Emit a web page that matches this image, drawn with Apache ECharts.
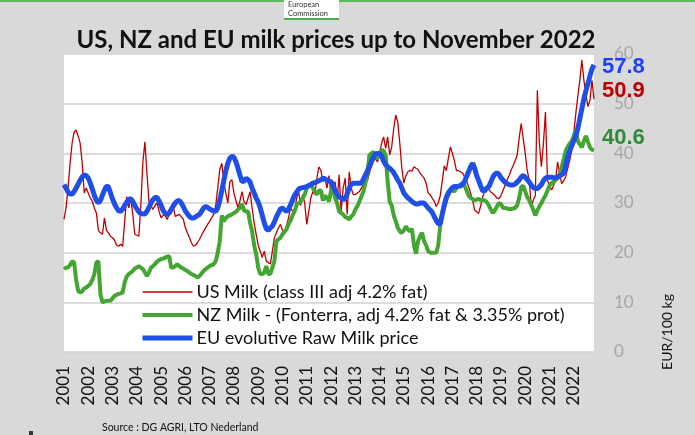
<!DOCTYPE html>
<html>
<head>
<meta charset="utf-8">
<script src="https://cdn.jsdelivr.net/npm/echarts@6/dist/echarts.min.js"></script>
<style>
  html, body { margin: 0; padding: 0; background: #d9d9d9; }
  #chart { width: 695px; height: 435px; }
</style>
</head>
<body>
<div id="chart"></div>
<script>
// years shown on the x axis, data is monthly Jan 2001 - Nov 2022
const years = [2001, 2002, 2003, 2004, 2005, 2006, 2007, 2008, 2009, 2010, 2011,
    2012, 2013, 2014, 2015, 2016, 2017, 2018, 2019, 2020, 2021, 2022];
const lastMonth = 11; // November 2022

// US Milk (class III adj 4.2% fat), EUR/100 kg
const usMilk = [
    26.7, 29, 33, 38, 42, 44.3, 44.7, 43.5, 42, 38, 32, 33,              // 2001
    32, 31, 30.3, 29, 28, 24.5, 24, 23.7, 27, 24.5, 24, 23.3,            // 2002
    23, 22.5, 21.5, 21.3, 21.7, 21.3, 26.3, 31.3, 29, 31, 27.7, 23.7,    // 2003
    23.5, 23.3, 29.7, 38.3, 42.3, 36, 30.3, 29.5, 28.7, 29.5, 30, 28.3,  // 2004
    27, 27.5, 27.5, 26.7, 27.7, 28.5, 29.3, 27.3, 27.5, 27.7, 27.2, 26.7,// 2005
    25, 24, 23, 22, 21.3, 21.5, 22, 22.7, 23.5, 24.3, 25, 25.7,          // 2006
    26.3, 27, 27.7, 29.5, 33, 36.7, 38, 34.3, 32, 30, 34.3, 34.7,        // 2007
    32, 30.5, 29, 30.5, 32.3, 30.3, 29.7, 31, 32.3, 29, 26, 23.7,        // 2008
    21.5, 20.3, 19, 20.3, 18.3, 18, 17.7, 20.3, 23, 24, 25, 25.7,        // 2009
    24.5, 23.7, 25.5, 27, 29, 28.3, 28.5, 31, 32.3, 29.5, 31.7, 30,      // 2010
    25.7, 28.3, 31, 32.3, 31.7, 35, 37.3, 36.5, 34.3, 35, 33, 35.5,      // 2011
    31.7, 33, 34.3, 30.3, 35.7, 28.3, 33, 35, 27.7, 36.3, 33, 31.7,      // 2012
    31.7, 32, 32.3, 33, 33.7, 34, 34.5, 36, 37.7, 39.7, 38.8, 38.3,      // 2013
    40, 42, 43.3, 41, 43.3, 39.7, 41.3, 45, 47.7, 46.3, 42, 37,          // 2014
    34, 35.5, 36.3, 36.6, 36.4, 37.3, 37, 36.8, 36, 35.5, 35, 34,        // 2015
    32, 31.7, 31, 30.4, 29.3, 30, 31.5, 34.5, 37.5, 36.5, 39, 41.3,      // 2016
    40, 38.5, 36.5, 36.5, 36.3, 36, 35.3, 34.5, 33.3, 32, 30.5, 28.6,    // 2017
    28.2, 27.9, 29.5, 31.2, 32.5, 33.3, 32.8, 32.2, 31.9, 31.5, 31, 30.9,// 2018
    31.5, 32.5, 33.5, 34.6, 35.5, 36.6, 37.5, 38.5, 39.6, 43, 46, 43,    // 2019
    40, 36.5, 34.6, 29.2, 30.6, 31.5, 52.7, 42, 37.3, 42, 48.3, 34.6,    // 2020
    33.5, 32.6, 33.5, 34.6, 38.3, 36, 33.9, 34.5, 35.3, 37, 38.6, 40.6,  // 2021
    44, 48, 51.5, 54.7, 58.8, 54.7, 52, 49.4, 50.7, 54.7, 50.9           // 2022
];

// NZ Milk - Fonterra, adj 4.2% fat & 3.35% prot
const nzMilk = [
    16.7, 17, 17, 17.5, 18.3, 18, 14.5, 12.3, 12, 12.2, 12.8, 13,        // 2001
    13.3, 13.7, 14.5, 15.7, 18, 18.3, 11.7, 10, 10.2, 10.3, 10.3, 10.3,  // 2002
    10.8, 11.3, 11.5, 11.7, 11.8, 12, 14, 15.2, 15.7, 16, 16.3, 16.8,    // 2003
    17, 17.3, 17, 16.7, 16, 15.3, 16, 17, 17.3, 17.7, 18.2, 18.5,        // 2004
    18.7, 18.8, 19, 19.2, 19.3, 17, 17, 17.3, 17.7, 17.3, 17, 16.8,      // 2005
    16.5, 16.3, 16, 15.7, 15.5, 15.3, 15, 15.3, 15.8, 16.3, 16.7, 17,    // 2006
    17.3, 17.5, 17.7, 18.3, 20, 22.3, 27.5, 26.3, 27, 27.3, 27.5, 27.7,  // 2007
    28, 28.2, 28.7, 29, 29.8, 28.5, 28.3, 28.3, 26, 24.3, 21.5, 19.7,    // 2008
    17, 15.7, 15.7, 16, 17.3, 15.7, 15.7, 17, 18.3, 22.3, 22.7, 23,      // 2009
    23.7, 24.2, 24.7, 25.7, 26.5, 27.5, 28.3, 29.7, 30, 30.3, 31, 31.7,  // 2010
    33, 33.3, 33.7, 33, 32.3, 31.7, 32.5, 32.5, 30.5, 31.5, 31, 30.3,    // 2011
    32.5, 33, 31, 30, 28.3, 28, 27.7, 27.2, 27, 26.7, 27.3, 27.7,        // 2012
    28.7, 29.3, 30.3, 31.3, 32.3, 34, 36, 39.7, 40, 40.3, 39.3, 39,      // 2013
    40, 40.7, 40.5, 39.7, 34.3, 30.3, 29.5, 27.5, 26.3, 25, 24.3, 24,    // 2014
    24.5, 25.3, 24.7, 24.3, 24.8, 21.5, 19.8, 22.3, 23.3, 24, 22.3, 21.5,// 2015
    20.3, 20, 20, 20, 20, 21.5, 25.5, 28, 30, 31.5, 32.3, 32.6,          // 2016
    32.6, 32.3, 33, 33.3, 33.3, 33.6, 33.6, 32.5, 31.5, 31, 30.8, 30.5,  // 2017
    30.7, 30.8, 30.6, 30.6, 30.5, 30.2, 29.5, 28.7, 28, 28.5, 29.3, 30,  // 2018
    29.8, 29, 29, 28.9, 28.8, 28.8, 28.9, 29, 29.5, 31, 33.2, 33.5,      // 2019
    32.3, 31.2, 30.5, 29.6, 28.6, 27.5, 28.5, 29.3, 30, 30.8, 31.5, 32.5,// 2020
    33.5, 34, 34.3, 34.6, 35, 35.8, 37.2, 38.8, 40.5, 41.3, 42, 42.5,    // 2021
    43.5, 44.8, 42.5, 41.8, 41.2, 42.5, 43.5, 42.3, 41.2, 40.7, 40.6     // 2022
];

// EU evolutive Raw Milk price
const euMilk = [
    33.7, 33, 32.2, 31.8, 31.8, 32.3, 33, 33.8, 34.6, 35.3, 35.7, 35.5,  // 2001
    35, 34, 32.8, 31.5, 30.5, 30, 30.5, 31.6, 32.6, 33.4, 33.2, 32,      // 2002
    30.8, 29.8, 29, 28.4, 28.3, 28.8, 29.5, 30.2, 30.7, 30.9, 30.3, 29.5,// 2003
    28.8, 28.2, 27.9, 27.8, 27.8, 28.3, 29.1, 30, 30.7, 31.1, 31.1, 30.4,// 2004
    29.5, 28.5, 27.9, 27.7, 28, 28.7, 29.4, 30, 30.4, 30.5, 30, 29.2,    // 2005
    28.4, 27.8, 27.3, 27, 27, 27.2, 27.5, 27.7, 28.3, 29, 29.3, 29.1,    // 2006
    28.8, 28.6, 28.4, 28.3, 29, 30.5, 32.5, 34.5, 36.5, 38, 39, 39.4,    // 2007
    39.2, 38.3, 37, 35.6, 34.3, 34.4, 35, 34.7, 34.2, 33, 32, 31,        // 2008
    30.2, 29, 27.5, 26, 24.8, 24.5, 25, 25.3, 26.2, 27.2, 28, 28.8,      // 2009
    29, 28.6, 28.3, 28.8, 29.6, 30.6, 31.6, 32.2, 32.8, 33, 33.1, 33.2,  // 2010
    33.3, 33.5, 33.7, 34, 34.1, 34.3, 34.5, 34.7, 35, 34.9, 34.6, 34.4,  // 2011
    34.3, 33.5, 32.5, 31.8, 31.2, 31, 30.6, 31, 31.8, 33, 33.8, 34,      // 2012
    34, 34, 34, 34, 34.8, 35.6, 36.5, 37.3, 38.3, 39.3, 39.9, 40,        // 2013
    39.9, 39.5, 38.4, 37.7, 37.3, 37, 36.6, 36.1, 35.4, 34.6, 34, 33,    // 2014
    32, 31.5, 31, 30.7, 30.3, 30, 29.8, 29.8, 30, 30, 30, 29.5,          // 2015
    29, 28.6, 28.1, 27.3, 26.5, 25.8, 25.8, 27.8, 29.5, 31, 31.9, 32.6,  // 2016
    33.1, 33.3, 33.3, 33.4, 33.5, 33.8, 34.3, 35.3, 36.3, 37.3, 38, 37,  // 2017
    35.5, 34.5, 33.4, 32.4, 32.5, 33, 33.3, 34.2, 35.2, 35.8, 36.1, 35.8,// 2018
    35.1, 34.6, 34.2, 33.9, 33.7, 33.6, 33.6, 33.8, 34.2, 34.6, 35.2, 35.6,// 2019
    35.2, 34.7, 34.2, 33.6, 33.1, 32.9, 32.9, 33.3, 33.7, 34.5, 35, 35.2,// 2020
    35.2, 35.2, 35.1, 35.1, 35.2, 35.5, 35.7, 36, 37.5, 39.3, 40.5, 41.5,// 2021
    42.5, 43.5, 45, 47, 49, 51, 52.6, 54, 55.6, 57, 57.8                 // 2022
];

const seriesNames = [
    'US Milk (class III adj 4.2% fat)',
    'NZ Milk - (Fonterra, adj 4.2% fat & 3.35% prot)',
    'EU evolutive Raw Milk price'
];

// monthly categories
const months = [];
years.forEach(y => {
    for (let m = 0; m < 12; m++) {
        if (y === years[years.length - 1] && m >= lastMonth) break;
        months.push(y + '-' + String(m + 1).padStart(2, '0'));
    }
});

const chart = echarts.init(document.getElementById('chart'));

function endLabel(color, dy) {
    return {
        show: true,
        formatter: p => p.value.toFixed(1),
        color: color,
        fontFamily: 'Liberation Sans',
        fontWeight: 'bold',
        fontSize: 22,
        distance: 8,
        offset: [0, dy]
    };
}

const option = {
    backgroundColor: '#d9d9d9',
    animation: false,
    title: {
        text: 'US, NZ and EU milk prices up to November 2022',
        left: 331,
        textAlign: 'center',
        top: 23,
        textStyle: {
            fontFamily: 'Lato',
            fontWeight: 'bold',
            fontSize: 24,
            color: '#111'
        }
    },
    grid: {
        left: 64,
        right: 101,
        top: 54,
        bottom: 83,
        show: true,
        backgroundColor: '#fff',
        borderWidth: 0
    },
    legend: {
        orient: 'vertical',
        left: 135,
        top: 278,
        padding: 5,
        itemWidth: 50,
        itemHeight: 14,
        itemGap: 5,
        data: [
            { name: seriesNames[0], lineStyle: { width: 1.5 } },
            { name: seriesNames[1], lineStyle: { width: 4 } },
            { name: seriesNames[2], lineStyle: { width: 5 } }
        ],
        itemStyle: { opacity: 0 },
        textStyle: {
            fontFamily: 'Lato',
            fontSize: 18,
            lineHeight: 18,
            padding: [0, 0, 0, -1],
            color: '#111'
        }
    },
    xAxis: {
        type: 'category',
        data: months,
        boundaryGap: false,
        axisLine: { show: false },
        axisTick: { show: false },
        axisLabel: {
            interval: idx => idx % 12 === 0,
            formatter: v => v.slice(0, 4),
            rotate: 90,
            margin: 14,
            fontFamily: 'Lato',
            fontSize: 17,
            color: '#111'
        }
    },
    yAxis: {
        type: 'value',
        position: 'right',
        min: 0,
        max: 60,
        interval: 10,
        axisLine: { show: false },
        axisTick: { show: false },
        axisLabel: {
            margin: 20,
            fontFamily: 'Lato',
            fontSize: 17,
            color: '#a6a6a6'
        },
        splitLine: { lineStyle: { color: '#d0d0d0', width: 1.5 } }
    },
    series: [
        {
            name: seriesNames[0],
            type: 'line',
            data: usMilk,
            symbol: 'none',
            lineStyle: { color: '#c00000', width: 1.3 },
            itemStyle: { color: '#c00000' },
            endLabel: endLabel('#c00000', -8)
        },
        {
            name: seriesNames[1],
            type: 'line',
            data: nzMilk,
            symbol: 'none',
            lineStyle: { color: '#44a632', width: 4 },
            itemStyle: { color: '#44a632' },
            endLabel: endLabel('#2e8b3a', -12)
        },
        {
            name: seriesNames[2],
            type: 'line',
            data: euMilk,
            symbol: 'none',
            lineStyle: { color: '#1f4fe8', width: 5 },
            itemStyle: { color: '#1f4fe8' },
            endLabel: endLabel('#1f3fff', 2)
        }
    ],
    graphic: [
        // green band on top and the Commission logo box
        { type: 'rect', left: 0, top: 0, shape: { width: 695, height: 2 }, style: { fill: '#5cb85c' } },
        { type: 'rect', left: 284, top: 0, shape: { width: 55, height: 20 }, style: { fill: '#fff' } },
        { type: 'rect', left: 284, top: 18, shape: { width: 55, height: 2 }, style: { fill: '#4caf50' } },
        { type: 'text', left: 288, top: 0, style: { text: 'European\nCommission', fontFamily: 'Lato', fontSize: 7.5, lineHeight: 9, fill: '#333' } },
        // y axis unit
        {
            type: 'text', x: 667, y: 332, rotation: Math.PI / 2,
            style: { text: 'EUR/100 kg', fontFamily: 'Lato', fontSize: 14, fill: '#111', align: 'center', verticalAlign: 'middle' }
        },
        { type: 'text', left: 102, top: 422, style: { text: 'Source : DG AGRI, LTO Nederland', fontFamily: 'Lato', fontSize: 10.5, fill: '#111' } },
        { type: 'rect', left: 29, top: 431, shape: { width: 4, height: 5 }, style: { fill: '#333' } }
    ]
};

chart.setOption(option);
</script>
</body>
</html>
